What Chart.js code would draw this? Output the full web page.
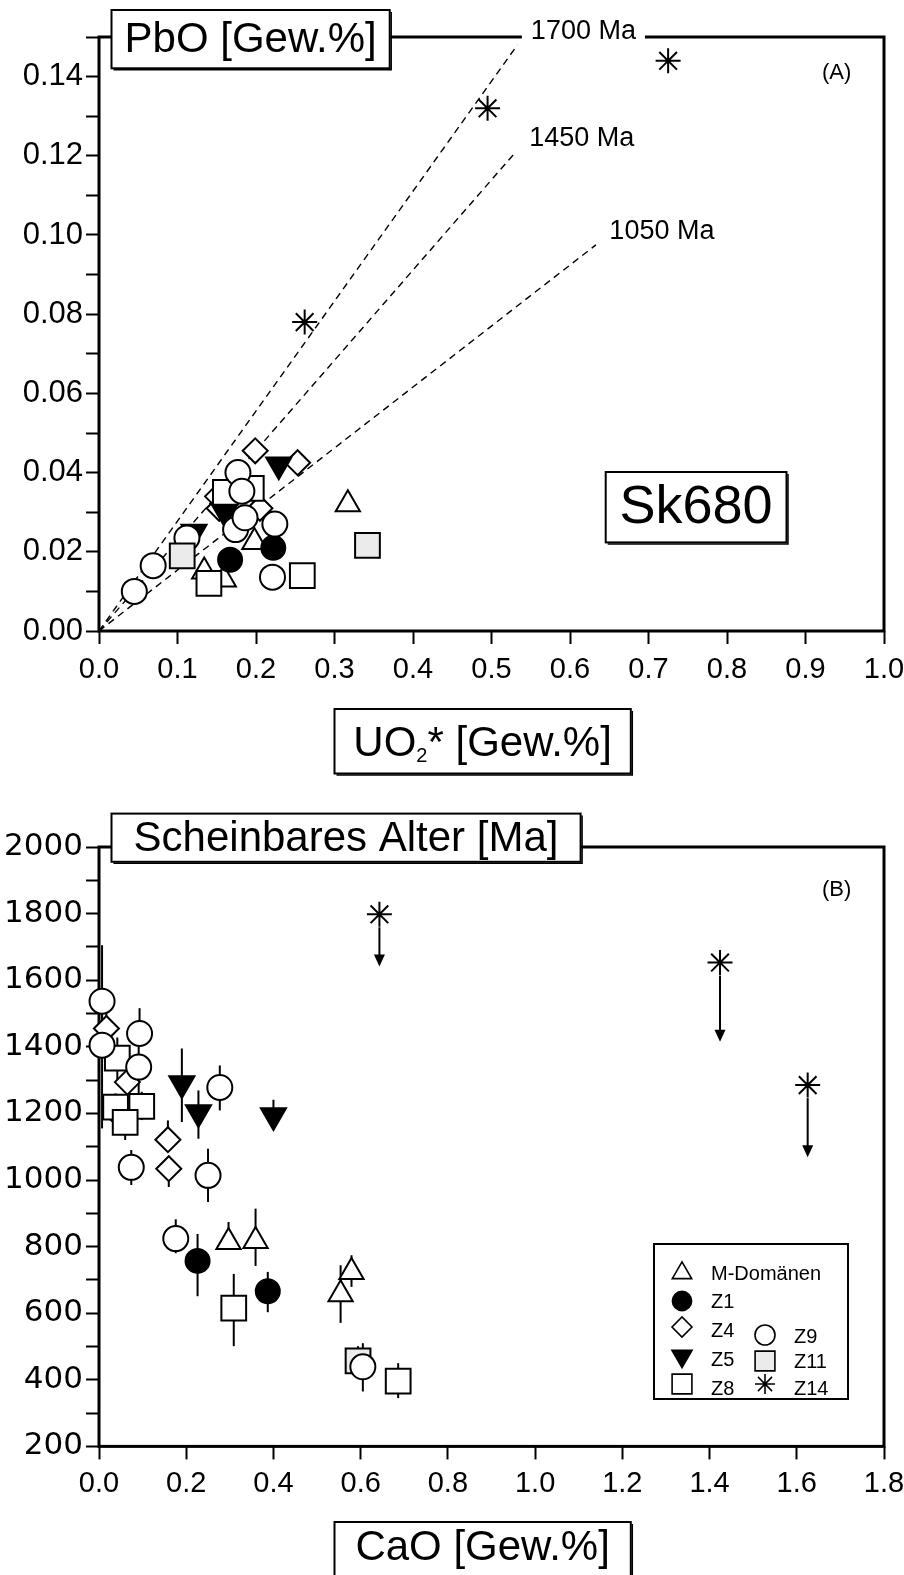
<!DOCTYPE html>
<html>
<head>
<meta charset="utf-8">
<script src="https://cdn.jsdelivr.net/npm/chart.js@4.4.1/dist/chart.umd.min.js"></script>
<style>
  body { margin: 0; background: #fff; }
  #chartA { position: absolute; left: 0; top: 0; }
  #chartB { position: absolute; left: 0; top: 790px; }
</style>
</head>
<body>
<canvas id="chartA" width="904" height="790" style="width:904px;height:790px"></canvas>
<canvas id="chartB" width="904" height="785" style="width:904px;height:785px"></canvas>
<script>
// ---- Panel A: PbO vs UO2* (Gew.%) ----
const uoM = [0.134, 0.159, 0.198, 0.317];
const pbM = [0.015, 0.013, 0.0225, 0.032];
const uoZ1 = [0.167, 0.222];
const pbZ1 = [0.018, 0.021];
const uoZ4 = [0.151, 0.153, 0.199, 0.205, 0.253];
const pbZ4 = [0.034, 0.031, 0.0455, 0.031, 0.0425];
const uoZ5 = [0.121, 0.160, 0.229];
const pbZ5 = [0.025, 0.030, 0.042];
const uoZ8 = [0.140, 0.161, 0.194, 0.259];
const pbZ8 = [0.012, 0.035, 0.036, 0.014];
const uoZ9 = [0.045, 0.069, 0.112, 0.174, 0.177, 0.182, 0.186, 0.224, 0.221];
const pbZ9 = [0.010, 0.0165, 0.0235, 0.0256, 0.040, 0.0353, 0.0286, 0.027, 0.0136];
const uoZ11 = [0.106, 0.342];
const pbZ11 = [0.019, 0.0216];
const uoZ14 = [0.262, 0.495, 0.725];
const pbZ14 = [0.078, 0.132, 0.144];

// isochron reference lines from the origin
const refAges = ['1700 Ma', '1450 Ma', '1050 Ma'];
const refEndUO = [0.533, 0.531, 0.633];
const refEndPb = [0.148, 0.121, 0.0975];

// ---- Panel B: apparent age vs CaO ----
const caM = [0.297, 0.359, 0.554, 0.579];
const ageM = [814, 817, 657, 724];
const hiM = [874, 914, 744, 774];
const loM = [814, 742, 571, 679];
const caZ1 = [0.226, 0.387];
const ageZ1 = [757, 666];
const hiZ1 = [838, 724];
const loZ1 = [651, 603];
const caZ4 = [0.017, 0.065, 0.042, 0.158, 0.160];
const ageZ4 = [1455, 1294, 1199, 1121, 1034];
const hiZ4 = [1500, 1340, 1240, 1179, 1034];
const loZ4 = [1410, 1250, 1160, 1121, 979];
const caZ5 = [0.190, 0.228, 0.400];
const ageZ5 = [1290, 1203, 1194];
const hiZ5 = [1395, 1269, 1241];
const loZ5 = [1174, 1124, 1194];
const caZ8 = [0.042, 0.038, 0.098, 0.060, 0.309, 0.686];
const ageZ8 = [1366, 1219, 1221, 1173, 615, 396];
const hiZ8 = [1428, 1260, 1265, 1230, 718, 450];
const loZ8 = [1300, 1170, 1180, 1120, 501, 345];
const caZ9 = [0.007, 0.007, 0.093, 0.091, 0.074, 0.277, 0.250, 0.176, 0.605];
const ageZ9 = [1537, 1405, 1440, 1339, 1038, 1278, 1014, 824, 439];
const hiZ9 = [1705, 1560, 1516, 1400, 1090, 1344, 1094, 882, 510];
const loZ9 = [1400, 1155, 1405, 1250, 985, 1209, 934, 780, 365];
const caZ11 = [0.594];
const ageZ11 = [457];
const hiZ11 = [501];
const loZ11 = [440];
const caZ14 = [0.643, 1.424, 1.625];
const ageZ14 = [1798, 1653, 1285];
const arrowZ14 = [1641, 1415, 1068];

const fontFam = '"Liberation Sans", Arial, sans-serif';

const symbols = {
  'M-Domänen': { pointStyle: 'triangle', bg: '#fff', r: 14, rot: 0 },
  'Z1': { pointStyle: 'circle', bg: '#000', r: 12, rot: 0 },
  'Z4': { pointStyle: 'rectRot', bg: '#fff', r: 12.5, rot: 0 },
  'Z5': { pointStyle: 'triangle', bg: '#000', r: 14.5, rot: 180 },
  'Z8': { pointStyle: 'rect', bg: '#fff', r: 17.5, rot: 0 },
  'Z9': { pointStyle: 'circle', bg: '#fff', r: 12.5, rot: 0 },
  'Z11': { pointStyle: 'rect', bg: '#ebebeb', r: 17.5, rot: 0 },
  'Z14': { pointStyle: 'star', bg: '#fff', r: 12.5, rot: 0 }
};

function pts(xs, ys) {
  return xs.map((x, i) => ({ x: x, y: ys[i] }));
}

function series(name, xs, ys, extra) {
  const s = symbols[name];
  return Object.assign({
    label: name,
    data: pts(xs, ys),
    pointStyle: s.pointStyle,
    pointRotation: s.rot,
    pointRadius: s.r,
    pointBackgroundColor: s.bg,
    pointBorderColor: '#000',
    pointBorderWidth: 2,
    showLine: false,
    clip: false
  }, extra || {});
}

function axis(min, max, step, fmt, fit, fontSize, pad, family) {
  return {
    type: 'linear', min: min, max: max,
    ticks: {
      stepSize: step, autoSkip: false, maxRotation: 0, color: '#000', padding: pad,
      font: { family: family || fontFam, size: fontSize },
      callback: fmt
    },
    grid: { drawOnChartArea: false, tickLength: 13, tickWidth: 2, tickColor: '#000' },
    border: { display: false },
    afterFit: s => {
      fit(s);
      s.paddingLeft = 0; s.paddingRight = 0; s.paddingTop = 0; s.paddingBottom = 0;
    }
  };
}

function box(ctx, x0, y0, x1, y1) {
  ctx.fillStyle = '#fff';
  ctx.fillRect(x0, y0, x1 - x0, y1 - y0);
  ctx.strokeStyle = '#000';
  ctx.lineWidth = 2;
  ctx.strokeRect(x0, y0, x1 - x0, y1 - y0);
  ctx.lineWidth = 1.5;
  ctx.beginPath();
  ctx.moveTo(x1 + 1.5, y0 + 2);
  ctx.lineTo(x1 + 1.5, y1 + 1.5);
  ctx.lineTo(x0 + 2, y1 + 1.5);
  ctx.stroke();
}

function centerText(ctx, text, x, y, size) {
  ctx.fillStyle = '#000';
  ctx.font = size + 'px ' + fontFam;
  ctx.textAlign = 'center';
  ctx.textBaseline = 'middle';
  ctx.fillText(text, x, y);
}

const decor = {
  id: 'decor',
  beforeDatasetsDraw(chart) {
    const ctx = chart.ctx, a = chart.chartArea, ys = chart.scales.y;
    ctx.save();
    ctx.strokeStyle = '#000';
    ctx.lineWidth = 3;
    ctx.strokeRect(a.left, a.top, a.right - a.left, a.bottom - a.top);
    ctx.lineWidth = 2;
    chart.data.datasets.forEach((ds, i) => {
      const meta = chart.getDatasetMeta(i);
      if (ds.errHi) {
        meta.data.forEach((p, j) => {
          ctx.beginPath();
          ctx.moveTo(p.x, ys.getPixelForValue(ds.errHi[j]));
          ctx.lineTo(p.x, ys.getPixelForValue(ds.errLo[j]));
          ctx.stroke();
        });
      }
      if (ds.arrowTo) {
        meta.data.forEach((p, j) => {
          const yEnd = ys.getPixelForValue(ds.arrowTo[j]);
          ctx.lineWidth = 2;
          ctx.beginPath();
          ctx.moveTo(p.x, p.y + 13);
          ctx.lineTo(p.x, yEnd - 8);
          ctx.stroke();
          ctx.fillStyle = '#000';
          ctx.beginPath();
          ctx.moveTo(p.x - 5.5, yEnd - 12);
          ctx.lineTo(p.x + 5.5, yEnd - 12);
          ctx.lineTo(p.x, yEnd);
          ctx.closePath();
          ctx.fill();
        });
      }
    });
    ctx.restore();
  }
};

// ---------- Chart A ----------
const aDatasets = refAges.map((age, i) => ({
  label: age,
  data: [{ x: 0, y: 0 }, { x: refEndUO[i], y: refEndPb[i] }],
  showLine: true,
  borderColor: '#000',
  borderWidth: 1.4,
  borderDash: [7, 5],
  pointRadius: 0,
  clip: false,
  order: 10
}));
aDatasets.push(
  series('Z14', uoZ14, pbZ14),
  series('Z11', uoZ11, pbZ11),
  series('Z9', uoZ9, pbZ9),
  series('Z8', uoZ8, pbZ8),
  series('Z5', uoZ5, pbZ5),
  series('Z4', uoZ4, pbZ4),
  series('Z1', uoZ1, pbZ1),
  series('M-Domänen', uoM, pbM)
);

const annotA = {
  id: 'annotA',
  afterDraw(chart) {
    const ctx = chart.ctx, xs = chart.scales.x, ys = chart.scales.y;
    ctx.save();
    // isochron labels
    ctx.font = '27px ' + fontFam;
    refAges.forEach((age, i) => {
      const px = xs.getPixelForValue(refEndUO[i]) + 66;
      const py = ys.getPixelForValue(refEndPb[i]) - 13;
      const w = ctx.measureText(age).width;
      ctx.fillStyle = '#fff';
      ctx.fillRect(px - w / 2 - 9, py - 14, w + 18, 28);
      centerText(ctx, age, px, py, 27);
    });
    box(ctx, 111.5, 10, 389.7, 68.3);
    centerText(ctx, 'PbO [Gew.%]', 250.6, 40, 42);
    box(ctx, 334.5, 709, 630.8, 773.5);
    // UO2* with subscript
    ctx.font = '42px ' + fontFam;
    const w1 = ctx.measureText('UO').width;
    const w3 = ctx.measureText('* [Gew.%]').width;
    ctx.font = '20px ' + fontFam;
    const w2 = ctx.measureText('2').width;
    let x = 482.6 - (w1 + w2 + w3) / 2;
    ctx.textAlign = 'left';
    ctx.textBaseline = 'alphabetic';
    ctx.fillStyle = '#000';
    ctx.font = '42px ' + fontFam;
    ctx.fillText('UO', x, 756);
    ctx.font = '20px ' + fontFam;
    ctx.fillText('2', x + w1, 762);
    ctx.font = '42px ' + fontFam;
    ctx.fillText('* [Gew.%]', x + w1 + w2, 756);
    box(ctx, 605.7, 472, 786.5, 542.4);
    centerText(ctx, 'Sk680', 696, 508, 54);
    centerText(ctx, '(A)', 836.7, 73, 22);
    ctx.restore();
  }
};

new Chart(document.getElementById('chartA'), {
  type: 'scatter',
  data: { datasets: aDatasets },
  options: {
    responsive: false,
    devicePixelRatio: 1,
    animation: false,
    layout: { padding: { top: 37, right: 20, left: 0, bottom: 0 } },
    plugins: { legend: { display: false }, tooltip: { enabled: false } },
    scales: {
      x: axis(0, 1, 0.1, v => v.toFixed(1), s => { s.height = 159; }, 29, 9),
      y: axis(0, 0.15, 0.01, v => {
        const i = Math.round(v * 100);
        return i % 2 === 0 ? (i / 100).toFixed(2) : '';
      }, s => { s.width = 99; }, 31, 3)
    }
  },
  plugins: [decor, annotA]
});

// ---------- Chart B ----------
const bDatasets = [
  series('Z14', caZ14, ageZ14, { arrowTo: arrowZ14 }),
  series('Z9', caZ9, ageZ9, { errHi: hiZ9, errLo: loZ9 }),
  series('Z11', caZ11, ageZ11, { errHi: hiZ11, errLo: loZ11 }),
  series('Z8', caZ8, ageZ8, { errHi: hiZ8, errLo: loZ8 }),
  series('Z5', caZ5, ageZ5, { errHi: hiZ5, errLo: loZ5 }),
  series('Z4', caZ4, ageZ4, { errHi: hiZ4, errLo: loZ4 }),
  series('Z1', caZ1, ageZ1, { errHi: hiZ1, errLo: loZ1 }),
  series('M-Domänen', caM, ageM, { errHi: hiM, errLo: loM })
];

// legend layout (canvas B pixels): symbol position, text position
const legendSlots = {
  'M-Domänen': [682, 483, 711, 484],
  'Z1': [682, 511, 711, 512],
  'Z4': [682, 537, 711, 541],
  'Z5': [682, 566, 711, 570],
  'Z8': [682, 594, 711, 599],
  'Z9': [765, 545, 794, 547],
  'Z11': [765, 571, 794, 572],
  'Z14': [765, 594, 794, 599]
};

const annotB = {
  id: 'annotB',
  afterDraw(chart) {
    const ctx = chart.ctx;
    ctx.save();
    box(ctx, 111.5, 23.6, 580.6, 71.8);
    centerText(ctx, 'Scheinbares Alter [Ma]', 346, 49, 42);
    box(ctx, 334.5, 732, 630.8, 786);
    centerText(ctx, 'CaO [Gew.%]', 482.6, 758, 42);
    centerText(ctx, '(B)', 836.7, 100, 22);
    // legend
    ctx.fillStyle = '#fff';
    ctx.fillRect(654, 454, 194, 155);
    ctx.strokeStyle = '#000';
    ctx.lineWidth = 2;
    ctx.strokeRect(654, 454, 194, 155);
    chart.data.datasets.forEach(ds => {
      const slot = legendSlots[ds.label];
      const s = symbols[ds.label];
      ctx.fillStyle = s.bg;
      ctx.strokeStyle = '#000';
      ctx.lineWidth = 1.6;
      Chart.helpers.drawPoint(ctx, {
        pointStyle: s.pointStyle, rotation: s.rot, radius: s.r * 0.8, borderWidth: 1.6
      }, slot[0], slot[1]);
      ctx.fillStyle = '#000';
      ctx.font = '20px ' + fontFam;
      ctx.textAlign = 'left';
      ctx.textBaseline = 'middle';
      ctx.fillText(ds.label, slot[2], slot[3]);
    });
    ctx.restore();
  }
};

new Chart(document.getElementById('chartB'), {
  type: 'scatter',
  data: { datasets: bDatasets },
  options: {
    responsive: false,
    devicePixelRatio: 1,
    animation: false,
    layout: { padding: { top: 57, right: 20, left: 0, bottom: 0 } },
    plugins: { legend: { display: false }, tooltip: { enabled: false } },
    scales: {
      x: axis(0, 1.8, 0.2, v => v.toFixed(1), s => { s.height = 128.6; }, 29, 7),
      y: axis(200, 2000, 100, v => (Math.round(v) % 200 === 0 ? String(Math.round(v)) : ''),
        s => { s.width = 99; }, 31, 3, '"DejaVu Sans", sans-serif')
    }
  },
  plugins: [decor, annotB]
});
</script>
</body>
</html>
